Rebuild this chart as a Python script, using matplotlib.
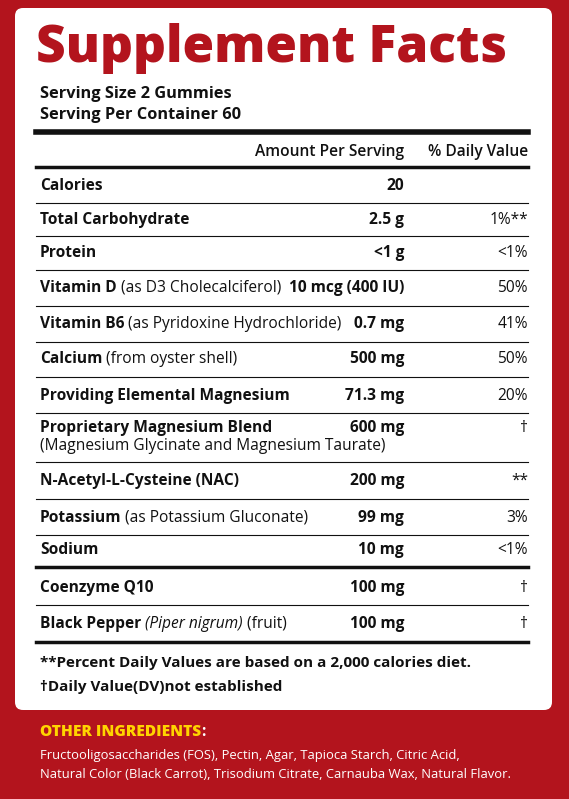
import matplotlib
matplotlib.use("Agg")
import matplotlib.pyplot as plt
from matplotlib.patches import FancyBboxPatch

RED = "#b3141d"
FONT = ["Open Sans", "DejaVu Sans"]
INK = "#111"

title = "Supplement Facts"
serving = ["Serving Size 2 Gummies", "Serving Per Container 60"]
header = ["Amount Per Serving", "% Daily Value"]
names_bold = ["Calories", "Total Carbohydrate", "Protein", "Vitamin D", "Vitamin B6", "Calcium",
              "Providing Elemental Magnesium", "Proprietary Magnesium Blend", "N-Acetyl-L-Cysteine (NAC)",
              "Potassium", "Sodium", "Coenzyme Q10", "Black Pepper"]
names_extra = ["", "", "", " (as D3 Cholecalciferol)", " (as Pyridoxine Hydrochloride)", " (from oyster shell)",
               "", "\n(Magnesium Glycinate and Magnesium Taurate)", "", " (as Potassium Gluconate)", "", "",
               " (Piper nigrum) (fruit)"]
amounts = ["20", "2.5 g", "<1 g", "10 mcg (400 IU)", "0.7 mg", "500 mg", "71.3 mg", "600 mg", "200 mg",
           "99 mg", "10 mg", "100 mg", "100 mg"]
dvs = ["", "1%**", "<1%", "50%", "41%", "50%", "20%", "†", "**", "3%", "<1%", "†", "†"]
footnotes = ["**Percent Daily Values are based on a 2,000 calories diet.", "†Daily Value(DV)not established"]
other_title = "OTHER INGREDIENTS"
other_text = ["Fructooligosaccharides (FOS), Pectin, Agar, Tapioca Starch, Citric Acid,",
              "Natural Color (Black Carrot), Trisodium Citrate, Carnauba Wax, Natural Flavor."]

# layout (pixels)
row_y = [186, 220, 253, 288, 324, 359, 396, 428, 481, 518, 550, 588, 624]
line_y = [203, 236, 270, 306, 342, 377, 413, 462, 499, 535, 567, 605, 642]
line_w = [0.8] * 10 + [2.5, 0.8, 2.5]

fig = plt.figure(figsize=(5.69, 7.99), dpi=100, facecolor=RED)
ax = fig.add_axes([0, 0, 1, 1])
ax.set_xlim(0, 569); ax.set_ylim(799, 0); ax.axis("off")
ax.add_patch(FancyBboxPatch((15, 8), 537, 702, boxstyle="round,pad=0,rounding_size=8",
                            fc="white", ec="none"))
fs = 11.2
ax.text(36, 48, title, color=RED, fontsize=37, fontweight="heavy", family=FONT, va="center")
for i, s in enumerate(serving):
    ax.text(40, 94 + 21 * i, s, fontsize=11.8, fontweight="bold", family=FONT, va="center", color=INK)
ax.plot([36, 528], [132, 132], color=INK, lw=4)
ax.text(404, 152, header[0], fontsize=fs, fontweight="semibold", family=FONT, va="center", ha="right", color=INK)
ax.text(528, 152, header[1], fontsize=fs, fontweight="semibold", family=FONT, va="center", ha="right", color=INK)
ax.plot([36, 528], [167, 167], color=INK, lw=2.5)

fig.canvas.draw()
r = fig.canvas.get_renderer()
for i in range(len(names_bold)):
    y = row_y[i]
    t = ax.text(40, y, names_bold[i], fontsize=fs, fontweight="bold", family=FONT, va="center", color=INK)
    ex = names_extra[i]
    if ex.startswith("\n"):
        ax.text(40, y + 18, ex.strip(), fontsize=fs, family=FONT, va="center", color=INK)
    elif ex:
        bb = t.get_window_extent(r)
        x1 = ax.transData.inverted().transform((bb.x1, 0))[0]
        if "Piper" in ex:
            t2 = ax.text(x1, y, " (Piper nigrum)", fontsize=fs, family=FONT, va="center", style="italic", color=INK)
            bb2 = t2.get_window_extent(r)
            x1 = ax.transData.inverted().transform((bb2.x1, 0))[0]
            ex = " (fruit)"
        ax.text(x1, y, ex, fontsize=fs, family=FONT, va="center", color=INK)
    ax.text(404, y, amounts[i], fontsize=fs, fontweight="bold", family=FONT, va="center", ha="right", color=INK)
    ax.text(528, y, dvs[i], fontsize=fs, family=FONT, va="center", ha="right", color=INK)
    ax.plot([36, 528], [line_y[i]] * 2, color=INK, lw=line_w[i])

for i, s in enumerate(footnotes):
    ax.text(40, 663 + 24 * i, s, fontsize=11, fontweight="bold", family=FONT, va="center", color=INK)
t = ax.text(40, 732, other_title, fontsize=11.2, fontweight="heavy", family=FONT, va="center", color="#ffd400")
bb = t.get_window_extent(r)
ax.text(ax.transData.inverted().transform((bb.x1, 0))[0], 732, ":", fontsize=11.2, fontweight="bold",
        family=FONT, va="center", color="white")
for i, s in enumerate(other_text):
    ax.text(40, 756 + 19 * i, s, fontsize=9.4, family=FONT, va="center", color="white")
fig.savefig("out.png", dpi=100, facecolor=RED)
